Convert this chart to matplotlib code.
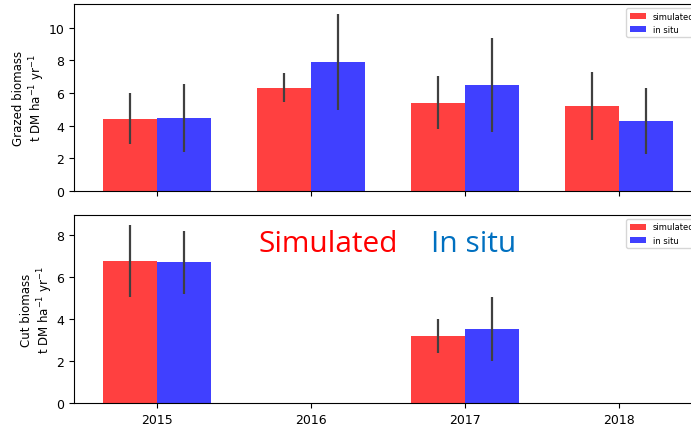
import numpy as np
import matplotlib.pyplot as plt

years = [2015, 2016, 2017, 2018]

grazed_sim = [4.42, 6.32, 5.40, 5.23]
grazed_sim_err = [1.55, 0.90, 1.62, 2.08]
grazed_insitu = [4.48, 7.91, 6.50, 4.29]
grazed_insitu_err = [2.08, 2.92, 2.88, 2.02]

cut_sim = [6.76, np.nan, 3.19, np.nan]
cut_sim_err = [1.71, np.nan, 0.81, np.nan]
cut_insitu = [6.71, np.nan, 3.52, np.nan]
cut_insitu_err = [1.50, np.nan, 1.52, np.nan]

width = 0.35
x = np.array(years, dtype=float)

fig = plt.figure(figsize=(6.91, 4.27), dpi=100)
ax1 = fig.add_axes([74 / 691, 1 - 192 / 427, 628 / 691, 187 / 427])
ax2 = fig.add_axes([74 / 691, 1 - 404 / 427, 628 / 691, 188 / 427])

err_kw = dict(ecolor="#404040", elinewidth=1.6, capsize=0)

for ax, sim, sim_err, ins, ins_err, lab in [
    (ax1, grazed_sim, grazed_sim_err, grazed_insitu, grazed_insitu_err, "Grazed biomass"),
    (ax2, cut_sim, cut_sim_err, cut_insitu, cut_insitu_err, "Cut biomass"),
]:
    ax.bar(x - width, sim, width, align="edge", yerr=sim_err, color="red", alpha=0.75,
           label="simulated", error_kw=err_kw)
    ax.bar(x, ins, width, align="edge", yerr=ins_err, color="blue", alpha=0.75,
           label="in situ", error_kw=err_kw)
    ax.set_xlim(2014.46, 2018.54)
    ax.set_xticks(years)
    ax.set_ylabel(lab + "\nt DM ha$^{-1}$ yr$^{-1}$", fontsize=8.5, labelpad=1)
    ax.tick_params(labelsize=9)
    ax.spines["right"].set_visible(False)
    ax.legend(loc="upper right", fontsize=6)

ax1.set_ylim(0, 11.45)
ax1.set_xticklabels([])
ax2.set_ylim(0, 8.95)

fig.text(258 / 691, 1 - 245 / 427, "Simulated", color="#ff0000", fontsize=21.5,
         family="Open Sans", va="center", ha="left")
fig.text(431 / 691, 1 - 245 / 427, "In situ", color="#0070c0", fontsize=21.5,
         family="Open Sans", va="center", ha="left")

fig.savefig("out.png", dpi=100)
